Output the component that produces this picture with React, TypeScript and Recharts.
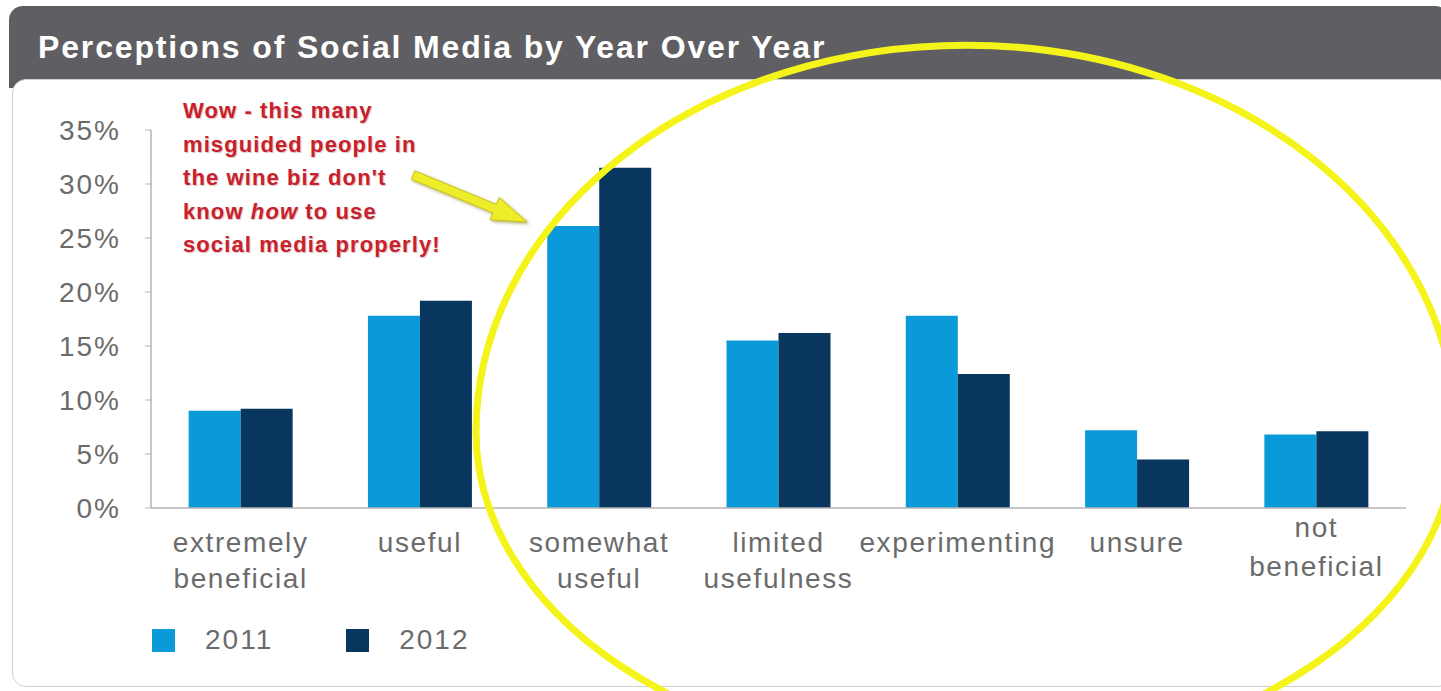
import { BarChart, Bar, XAxis, YAxis } from 'recharts'

const categories = [
  'extremely\nbeneficial',
  'useful',
  'somewhat\nuseful',
  'limited\nusefulness',
  'experimenting',
  'unsure',
  'not\nbeneficial',
]
const values2011 = [9.0, 17.8, 26.1, 15.5, 17.8, 7.2, 6.8]
const values2012 = [9.2, 19.2, 31.5, 16.2, 12.4, 4.5, 7.1]
const yTicks = [0, 5, 10, 15, 20, 25, 30, 35]
const seriesNames = ['2011', '2012']
const seriesColors = ['#0b9ad9', '#08365f']
const noteLines = ['Wow - this many', 'misguided people in', "the wine biz don't", 'know |how| to use', 'social media properly!']

const font = "'Liberation Sans', Arial, Helvetica, sans-serif"
const grey = '#6b6b6b'

const data = categories.map((name, i) => ({
  name,
  idx: i + 0.5,
  y2011: values2011[i],
  y2012: values2012[i],
}))

function CategoryTick(props: any) {
  const { x, y, payload, index } = props
  const lines = String(payload.value).split('\n')
  // the last label sits a little higher in the original
  const lift = index === categories.length - 1 ? 15 : 0
  return (
    <text x={x} y={y} textAnchor="middle" fill={grey} fontSize={28} fontFamily={font} letterSpacing={1.6}>
      {lines.map((l, i) => (
        <tspan key={i} x={x} dy={i === 0 ? 36 - lift : 36 + lift / 6}>{l}</tspan>
      ))}
    </text>
  )
}

function Note() {
  return (
    <div style={{ position: 'absolute', left: 183, top: 94, color: '#c8202c', fontFamily: font, fontWeight: 700, fontSize: 22, lineHeight: '33.5px', letterSpacing: 1.1, textShadow: '1px 1px 1px rgba(120,0,0,0.25)' }}>
      {noteLines.map((l, i) => {
        const parts = l.split('|')
        return (
          <div key={i}>
            {parts.map((p, j) => (j === 1 ? <i key={j}>{p}</i> : <span key={j}>{p}</span>))}
          </div>
        )
      })}
    </div>
  )
}

function Overlay() {
  return (
    <svg width={1441} height={691} style={{ position: 'absolute', left: 0, top: 0, pointerEvents: 'none' }}>
      <defs>
        <filter id="sh" x="-20%" y="-20%" width="140%" height="140%">
          <feDropShadow dx="1.5" dy="1.5" stdDeviation="1.5" floodColor="#7a7400" floodOpacity="0.6" />
        </filter>
      </defs>
      {/* hand-drawn loop: rounder on top, flatter below */}
      <path d="M 476,432 A 490 387 0 0 1 1456,432 A 490 330 0 0 1 476,432 Z" fill="none" stroke="#f4f41a" strokeWidth={7} />
      <polygon
        points="411.3,179.2 492.9,212.8 490,219.7 527,222 499.2,197.5 496.3,204.4 414.7,170.8"
        fill="#eded2a"
        stroke="#c8c21a"
        strokeWidth={1}
        strokeLinejoin="round"
        filter="url(#sh)"
      />
    </svg>
  )
}

export default function App() {
  return (
    <div style={{ position: 'absolute', left: 0, top: 0, width: 1441, height: 691, background: '#fff', overflow: 'hidden', fontFamily: font }}>
      <div style={{ position: 'absolute', left: 9, top: 6, width: 1440, height: 82, background: '#5f5f63', borderRadius: '14px 14px 0 0' }} />
      <div style={{ position: 'absolute', left: 38, top: 29, color: '#fff', fontSize: 32, fontWeight: 700, letterSpacing: 1.85, whiteSpace: 'nowrap' }}>
        Perceptions of Social Media by Year Over Year
      </div>
      <div style={{ position: 'absolute', left: 12, top: 79, width: 1440, height: 608, background: '#fff', border: '1px solid #cfcfcf', borderRadius: 14, boxSizing: 'border-box' }} />

      <div style={{ position: 'absolute', left: 0, top: 0 }}>
        <BarChart width={1441} height={691} data={data} margin={{ top: 130, right: 35, bottom: 102, left: 0 }} barCategoryGap="21%" barGap={0}>
          <XAxis xAxisId="edges" dataKey="idx" type="number" domain={[0, categories.length]} ticks={categories.map((_, i) => i).concat([categories.length])} tick={false} tickSize={6} height={1} axisLine={false} tickLine={{ stroke: '#b5b5b5' }} />
          <XAxis dataKey="name" interval={0} tick={<CategoryTick />} tickLine={false} axisLine={{ stroke: '#b5b5b5', strokeWidth: 1.5 }} height={80} />
          <YAxis
            domain={[0, 35]}
            ticks={yTicks}
            width={151}
            tickSize={6}
            tickMargin={24}
            tickFormatter={(v) => `${v}%`}
            tick={{ fill: grey, fontSize: 28, fontFamily: font, letterSpacing: 2 }}
            axisLine={{ stroke: '#b5b5b5', strokeWidth: 1.5 }}
            tickLine={{ stroke: '#b5b5b5' }}
          />
          <Bar dataKey="y2011" name={seriesNames[0]} fill={seriesColors[0]} isAnimationActive={false} />
          <Bar dataKey="y2012" name={seriesNames[1]} fill={seriesColors[1]} isAnimationActive={false} />
        </BarChart>
      </div>

      <div style={{ position: 'absolute', left: 152, top: 624, display: 'flex', alignItems: 'center', fontSize: 28, color: grey, letterSpacing: 2 }}>
        {seriesNames.map((n, i) => (
          <div key={n} style={{ display: 'flex', alignItems: 'center', marginRight: 73 }}>
            <div style={{ width: 23, height: 23, background: seriesColors[i], marginRight: 30 }} />
            <span>{n}</span>
          </div>
        ))}
      </div>

      <Note />
      <Overlay />
    </div>
  )
}
